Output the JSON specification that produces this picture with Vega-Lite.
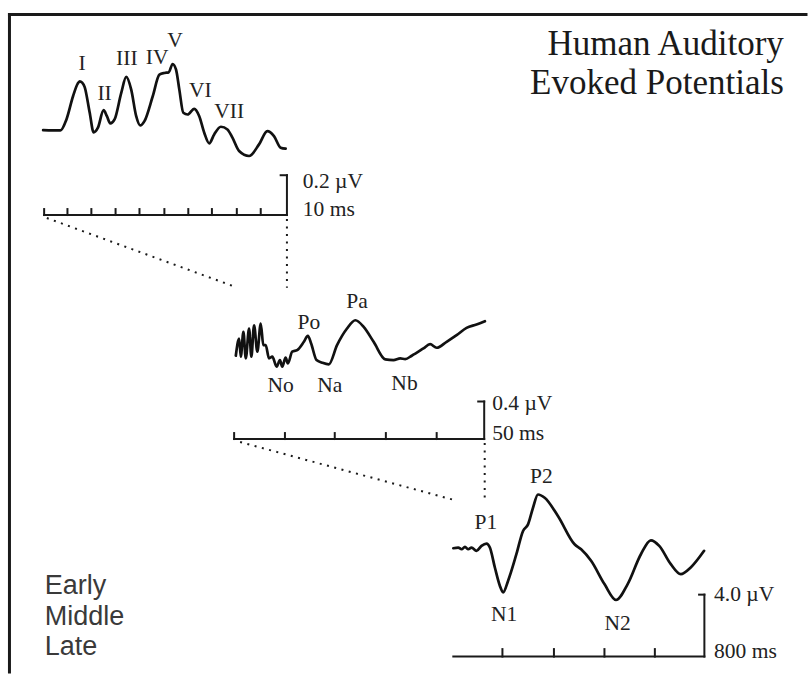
{
  "$schema": "https://vega.github.io/schema/vega-lite/v6.json",
  "width": 809,
  "height": 675,
  "autosize": {"type": "fit", "contains": "padding"},
  "padding": 0,
  "background": "white",
  "config": {"view": {"stroke": null}},
  "datasets": {
    "waves": [
      {"wave": "Early", "i": 0, "x": 43.3, "y": 130.7},
      {"wave": "Early", "i": 1, "x": 60.7, "y": 131},
      {"wave": "Early", "i": 2, "x": 66.7, "y": 120},
      {"wave": "Early", "i": 3, "x": 73.3, "y": 96.7},
      {"wave": "Early", "i": 4, "x": 78, "y": 84},
      {"wave": "Early", "i": 5, "x": 80, "y": 81.7},
      {"wave": "Early", "i": 6, "x": 82.5, "y": 83},
      {"wave": "Early", "i": 7, "x": 85, "y": 87.5},
      {"wave": "Early", "i": 8, "x": 90, "y": 113},
      {"wave": "Early", "i": 9, "x": 94, "y": 133},
      {"wave": "Early", "i": 10, "x": 98.3, "y": 128.3},
      {"wave": "Early", "i": 11, "x": 104, "y": 110.7},
      {"wave": "Early", "i": 12, "x": 107.3, "y": 116.7},
      {"wave": "Early", "i": 13, "x": 110.7, "y": 124},
      {"wave": "Early", "i": 14, "x": 115, "y": 120},
      {"wave": "Early", "i": 15, "x": 121.7, "y": 93.3},
      {"wave": "Early", "i": 16, "x": 126.7, "y": 77.3},
      {"wave": "Early", "i": 17, "x": 131.7, "y": 90},
      {"wave": "Early", "i": 18, "x": 136.7, "y": 116.7},
      {"wave": "Early", "i": 19, "x": 140.7, "y": 126},
      {"wave": "Early", "i": 20, "x": 145, "y": 121.7},
      {"wave": "Early", "i": 21, "x": 153.3, "y": 96.7},
      {"wave": "Early", "i": 22, "x": 160, "y": 75},
      {"wave": "Early", "i": 23, "x": 165, "y": 73.3},
      {"wave": "Early", "i": 24, "x": 169.3, "y": 72.7},
      {"wave": "Early", "i": 25, "x": 173.3, "y": 64.3},
      {"wave": "Early", "i": 26, "x": 176.7, "y": 70},
      {"wave": "Early", "i": 27, "x": 180, "y": 90},
      {"wave": "Early", "i": 28, "x": 184, "y": 113.3},
      {"wave": "Early", "i": 29, "x": 188.3, "y": 115},
      {"wave": "Early", "i": 30, "x": 195, "y": 109.3},
      {"wave": "Early", "i": 31, "x": 200, "y": 116.7},
      {"wave": "Early", "i": 32, "x": 205, "y": 133.3},
      {"wave": "Early", "i": 33, "x": 210, "y": 144},
      {"wave": "Early", "i": 34, "x": 215, "y": 135},
      {"wave": "Early", "i": 35, "x": 221.7, "y": 127.3},
      {"wave": "Early", "i": 36, "x": 228.3, "y": 130},
      {"wave": "Early", "i": 37, "x": 233.3, "y": 138.3},
      {"wave": "Early", "i": 38, "x": 240, "y": 151.7},
      {"wave": "Early", "i": 39, "x": 250, "y": 156.7},
      {"wave": "Early", "i": 40, "x": 260, "y": 145},
      {"wave": "Early", "i": 41, "x": 268.3, "y": 131.7},
      {"wave": "Early", "i": 42, "x": 275, "y": 136.7},
      {"wave": "Early", "i": 43, "x": 281.7, "y": 148.3},
      {"wave": "Early", "i": 44, "x": 286.7, "y": 149.3},

      {"wave": "Middle", "i": 0, "x": 236.7, "y": 357.3},
      {"wave": "Middle", "i": 1, "x": 240, "y": 340},
      {"wave": "Middle", "i": 2, "x": 241.7, "y": 358.3},
      {"wave": "Middle", "i": 3, "x": 244.3, "y": 333.3},
      {"wave": "Middle", "i": 4, "x": 246.7, "y": 360},
      {"wave": "Middle", "i": 5, "x": 250, "y": 330},
      {"wave": "Middle", "i": 6, "x": 252.3, "y": 358.3},
      {"wave": "Middle", "i": 7, "x": 255, "y": 326.7},
      {"wave": "Middle", "i": 8, "x": 258.3, "y": 353.3},
      {"wave": "Middle", "i": 9, "x": 261.7, "y": 325},
      {"wave": "Middle", "i": 10, "x": 264.3, "y": 346.7},
      {"wave": "Middle", "i": 11, "x": 266.7, "y": 346.7},
      {"wave": "Middle", "i": 12, "x": 270, "y": 360},
      {"wave": "Middle", "i": 13, "x": 273.3, "y": 358.3},
      {"wave": "Middle", "i": 14, "x": 277.7, "y": 368.3},
      {"wave": "Middle", "i": 15, "x": 281, "y": 361.7},
      {"wave": "Middle", "i": 16, "x": 283.3, "y": 368.3},
      {"wave": "Middle", "i": 17, "x": 286.7, "y": 359.3},
      {"wave": "Middle", "i": 18, "x": 289, "y": 365},
      {"wave": "Middle", "i": 19, "x": 293.3, "y": 353.3},
      {"wave": "Middle", "i": 20, "x": 298.3, "y": 351.7},
      {"wave": "Middle", "i": 21, "x": 305, "y": 343.3},
      {"wave": "Middle", "i": 22, "x": 309, "y": 337.3},
      {"wave": "Middle", "i": 23, "x": 312.3, "y": 345},
      {"wave": "Middle", "i": 24, "x": 317.7, "y": 361.7},
      {"wave": "Middle", "i": 25, "x": 323.3, "y": 364.3},
      {"wave": "Middle", "i": 26, "x": 330, "y": 366},
      {"wave": "Middle", "i": 27, "x": 338.3, "y": 346.7},
      {"wave": "Middle", "i": 28, "x": 348.3, "y": 330},
      {"wave": "Middle", "i": 29, "x": 356.7, "y": 321.7},
      {"wave": "Middle", "i": 30, "x": 365, "y": 328.3},
      {"wave": "Middle", "i": 31, "x": 375, "y": 343.3},
      {"wave": "Middle", "i": 32, "x": 386.7, "y": 361},
      {"wave": "Middle", "i": 33, "x": 395, "y": 361.7},
      {"wave": "Middle", "i": 34, "x": 401.7, "y": 360},
      {"wave": "Middle", "i": 35, "x": 406.7, "y": 360.7},
      {"wave": "Middle", "i": 36, "x": 413.3, "y": 357.3},
      {"wave": "Middle", "i": 37, "x": 425, "y": 350},
      {"wave": "Middle", "i": 38, "x": 431.7, "y": 345.7},
      {"wave": "Middle", "i": 39, "x": 438.3, "y": 349.3},
      {"wave": "Middle", "i": 40, "x": 448.3, "y": 343.3},
      {"wave": "Middle", "i": 41, "x": 458.3, "y": 336.7},
      {"wave": "Middle", "i": 42, "x": 468.3, "y": 329.3},
      {"wave": "Middle", "i": 43, "x": 478.3, "y": 326},
      {"wave": "Middle", "i": 44, "x": 486.7, "y": 322.7},

      {"wave": "Late", "i": 0, "x": 455, "y": 550.7},
      {"wave": "Late", "i": 1, "x": 460, "y": 550},
      {"wave": "Late", "i": 2, "x": 463.3, "y": 551.7},
      {"wave": "Late", "i": 3, "x": 466.7, "y": 549.3},
      {"wave": "Late", "i": 4, "x": 470, "y": 551.7},
      {"wave": "Late", "i": 5, "x": 473.3, "y": 550},
      {"wave": "Late", "i": 6, "x": 478.3, "y": 553.3},
      {"wave": "Late", "i": 7, "x": 483.3, "y": 548.3},
      {"wave": "Late", "i": 8, "x": 488.3, "y": 546},
      {"wave": "Late", "i": 9, "x": 491.7, "y": 550},
      {"wave": "Late", "i": 10, "x": 496.7, "y": 570},
      {"wave": "Late", "i": 11, "x": 501.7, "y": 588.3},
      {"wave": "Late", "i": 12, "x": 505, "y": 595},
      {"wave": "Late", "i": 13, "x": 510, "y": 583.3},
      {"wave": "Late", "i": 14, "x": 518.3, "y": 556.7},
      {"wave": "Late", "i": 15, "x": 525, "y": 533.3},
      {"wave": "Late", "i": 16, "x": 530, "y": 526.7},
      {"wave": "Late", "i": 17, "x": 535, "y": 510},
      {"wave": "Late", "i": 18, "x": 540, "y": 496.7},
      {"wave": "Late", "i": 19, "x": 546.7, "y": 500},
      {"wave": "Late", "i": 20, "x": 560, "y": 518.3},
      {"wave": "Late", "i": 21, "x": 576.7, "y": 546.7},
      {"wave": "Late", "i": 22, "x": 583.3, "y": 551.7},
      {"wave": "Late", "i": 23, "x": 593.3, "y": 563.3},
      {"wave": "Late", "i": 24, "x": 606.7, "y": 586.7},
      {"wave": "Late", "i": 25, "x": 618.3, "y": 602.7},
      {"wave": "Late", "i": 26, "x": 630, "y": 586.7},
      {"wave": "Late", "i": 27, "x": 643.3, "y": 556.7},
      {"wave": "Late", "i": 28, "x": 653.3, "y": 542.7},
      {"wave": "Late", "i": 29, "x": 661.7, "y": 548.3},
      {"wave": "Late", "i": 30, "x": 673.3, "y": 566.7},
      {"wave": "Late", "i": 31, "x": 683.3, "y": 576.7},
      {"wave": "Late", "i": 32, "x": 693.3, "y": 570},
      {"wave": "Late", "i": 33, "x": 706.7, "y": 553.3}
    ],
    "segments": [
      {"kind": "frame", "x": 9.5, "y": 14.5, "x2": 809, "y2": 14.5},
      {"kind": "frame", "x": 9.5, "y": 14.5, "x2": 9.5, "y2": 675},

      {"kind": "bar", "x": 44.3, "y": 216, "x2": 288, "y2": 216},
      {"kind": "bar", "x": 288, "y": 216, "x2": 288, "y2": 176},
      {"kind": "bar", "x": 281.7, "y": 176, "x2": 288, "y2": 176},
      {"kind": "bar", "x": 44.3, "y": 216, "x2": 44.3, "y2": 210},
      {"kind": "bar", "x": 67.7, "y": 216, "x2": 67.7, "y2": 210},
      {"kind": "bar", "x": 91.7, "y": 216, "x2": 91.7, "y2": 210},
      {"kind": "bar", "x": 116, "y": 216, "x2": 116, "y2": 210},
      {"kind": "bar", "x": 140, "y": 216, "x2": 140, "y2": 210},
      {"kind": "bar", "x": 165, "y": 216, "x2": 165, "y2": 210},
      {"kind": "bar", "x": 189, "y": 216, "x2": 189, "y2": 210},
      {"kind": "bar", "x": 212.7, "y": 216, "x2": 212.7, "y2": 210},
      {"kind": "bar", "x": 237.7, "y": 216, "x2": 237.7, "y2": 210},
      {"kind": "bar", "x": 261.7, "y": 216, "x2": 261.7, "y2": 210},

      {"kind": "bar", "x": 235, "y": 441, "x2": 486, "y2": 441},
      {"kind": "bar", "x": 486, "y": 441, "x2": 486, "y2": 403.3},
      {"kind": "bar", "x": 480, "y": 403.3, "x2": 486, "y2": 403.3},
      {"kind": "bar", "x": 235, "y": 441, "x2": 235, "y2": 435},
      {"kind": "bar", "x": 286, "y": 441, "x2": 286, "y2": 435},
      {"kind": "bar", "x": 336, "y": 441, "x2": 336, "y2": 435},
      {"kind": "bar", "x": 387.3, "y": 441, "x2": 387.3, "y2": 435},
      {"kind": "bar", "x": 438.3, "y": 441, "x2": 438.3, "y2": 435},

      {"kind": "bar", "x": 455, "y": 659.5, "x2": 707, "y2": 659.5},
      {"kind": "bar", "x": 707, "y": 659.5, "x2": 707, "y2": 597.3},
      {"kind": "bar", "x": 701.7, "y": 597.3, "x2": 707, "y2": 597.3},
      {"kind": "bar", "x": 504.3, "y": 659.5, "x2": 504.3, "y2": 652},
      {"kind": "bar", "x": 556, "y": 659.5, "x2": 556, "y2": 652},
      {"kind": "bar", "x": 606.7, "y": 659.5, "x2": 606.7, "y2": 652},
      {"kind": "bar", "x": 657.3, "y": 659.5, "x2": 657.3, "y2": 652},

      {"kind": "zoom", "x": 47, "y": 219, "x2": 233, "y2": 287},
      {"kind": "zoom", "x": 288, "y": 220, "x2": 288, "y2": 289},
      {"kind": "zoom", "x": 241, "y": 444, "x2": 455, "y2": 502},
      {"kind": "zoom", "x": 486.5, "y": 445, "x2": 486.5, "y2": 504}
    ],
    "peaks": [
      {"label": "I", "x": 82.3, "y": 70.7},
      {"label": "II", "x": 105, "y": 100},
      {"label": "III", "x": 127.3, "y": 65.7},
      {"label": "IV", "x": 157.7, "y": 64.3},
      {"label": "V", "x": 175.7, "y": 47.3},
      {"label": "VI", "x": 201, "y": 97.3},
      {"label": "VII", "x": 230, "y": 119},
      {"label": "Po", "x": 310, "y": 330},
      {"label": "Pa", "x": 358.3, "y": 309.3},
      {"label": "No", "x": 281.7, "y": 393.3},
      {"label": "Na", "x": 331, "y": 393.3},
      {"label": "Nb", "x": 406, "y": 391.7},
      {"label": "P1", "x": 487.7, "y": 531.7},
      {"label": "P2", "x": 543.3, "y": 485},
      {"label": "N1", "x": 506, "y": 623.3},
      {"label": "N2", "x": 620, "y": 633.3}
    ],
    "scaleLabels": [
      {"label": "0.2 µV", "x": 304, "y": 188.5},
      {"label": "10 ms", "x": 304, "y": 216.5},
      {"label": "0.4 µV", "x": 494, "y": 412},
      {"label": "50 ms", "x": 494, "y": 442},
      {"label": "4.0 µV", "x": 716.7, "y": 603.3},
      {"label": "800 ms", "x": 716.7, "y": 660.7}
    ],
    "title": [
      {"label": "Human Auditory", "x": 786.7, "y": 55},
      {"label": "Evoked Potentials", "x": 786.7, "y": 94}
    ],
    "key": [
      {"label": "Early", "x": 45, "y": 596.7},
      {"label": "Middle", "x": 45, "y": 627.5},
      {"label": "Late", "x": 45, "y": 658.3}
    ]
  },
  "encoding": {
    "x": {"field": "x", "type": "quantitative", "scale": {"domain": [0, 809], "nice": false, "zero": false}, "axis": null},
    "y": {"field": "y", "type": "quantitative", "scale": {"domain": [0, 675], "nice": false, "zero": false, "reverse": true}, "axis": null}
  },
  "layer": [
    {
      "data": {"name": "segments"},
      "transform": [{"filter": "datum.kind === 'frame'"}],
      "mark": {"type": "rule", "stroke": "#1a1a1a", "strokeWidth": 3, "strokeCap": "square"},
      "encoding": {"x2": {"field": "x2"}, "y2": {"field": "y2"}}
    },
    {
      "data": {"name": "segments"},
      "transform": [{"filter": "datum.kind === 'bar'"}],
      "mark": {"type": "rule", "stroke": "#1a1a1a", "strokeWidth": 2, "strokeCap": "square"},
      "encoding": {"x2": {"field": "x2"}, "y2": {"field": "y2"}}
    },
    {
      "data": {"name": "segments"},
      "transform": [{"filter": "datum.kind === 'zoom'"}],
      "mark": {"type": "rule", "stroke": "#1a1a1a", "strokeWidth": 2, "strokeDash": [2, 5.5]},
      "encoding": {"x2": {"field": "x2"}, "y2": {"field": "y2"}}
    },
    {
      "data": {"name": "waves"},
      "mark": {"type": "line", "stroke": "#111", "strokeWidth": 2.7, "strokeJoin": "round", "strokeCap": "round", "interpolate": "monotone"},
      "encoding": {"detail": {"field": "wave"}, "order": {"field": "i", "type": "quantitative"}}
    },
    {
      "data": {"name": "peaks"},
      "mark": {"type": "text", "font": "Liberation Serif", "fontSize": 21.5, "align": "center", "baseline": "alphabetic", "fill": "#222"},
      "encoding": {"text": {"field": "label"}}
    },
    {
      "data": {"name": "scaleLabels"},
      "mark": {"type": "text", "font": "Liberation Serif", "fontSize": 21.5, "align": "left", "baseline": "alphabetic", "fill": "#222"},
      "encoding": {"text": {"field": "label"}}
    },
    {
      "data": {"name": "title"},
      "mark": {"type": "text", "font": "Liberation Serif", "fontSize": 35, "align": "right", "baseline": "alphabetic", "fill": "#1a1a1a"},
      "encoding": {"text": {"field": "label"}}
    },
    {
      "data": {"name": "key"},
      "mark": {"type": "text", "font": "Liberation Sans", "fontSize": 27, "align": "left", "baseline": "alphabetic", "fill": "#3a3a3a"},
      "encoding": {"text": {"field": "label"}}
    }
  ]
}
